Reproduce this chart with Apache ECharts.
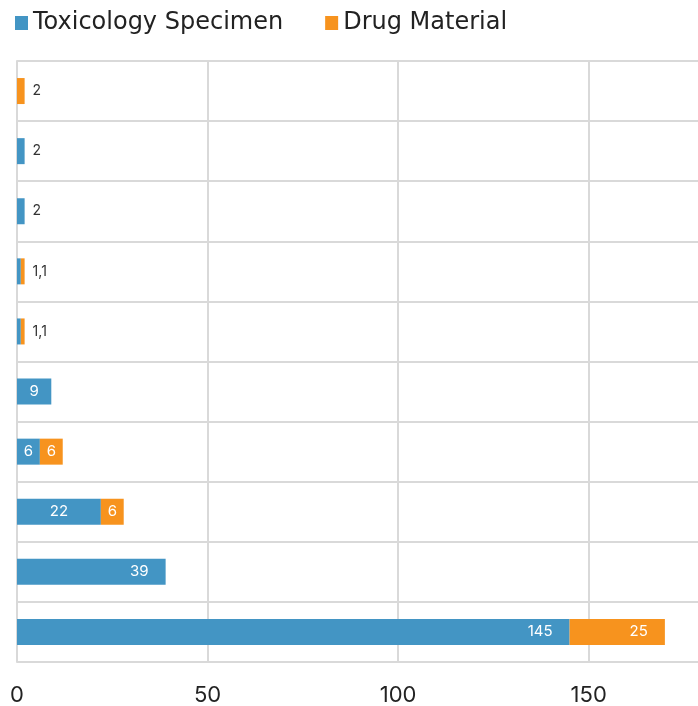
<!DOCTYPE html>
<html>
<head>
<meta charset="utf-8">
<script src="https://cdn.jsdelivr.net/npm/echarts@6/dist/echarts.min.js"></script>
<style>
  html, body { margin: 0; padding: 0; background: #fff; }
  #chart { width: 698px; height: 706px; }
</style>
</head>
<body>
<div id="chart"></div>
<script>
// data
var categories = ['1', '2', '3', '4', '5', '6', '7', '8', '9', '10'];
var toxValues = [0, 2, 2, 1, 1, 9, 6, 22, 39, 145];
var drugValues = [2, 0, 0, 1, 1, 0, 6, 6, 0, 25];
var xTicks = [0, 50, 100, 150];

var blue = '#4395c4';
var orange = '#f7931e';
var font = 'Inter, "Noto Sans", sans-serif';
var legendFont = '"DejaVu Sans", sans-serif';

// small rows get one dark label to the right of the bar
function smallRow(i) {
    return toxValues[i] + drugValues[i] <= 2;
}

function labelFor(value, i, isLast) {
    if (value === 0) return { show: false };
    if (smallRow(i)) {
        if (!isLast && drugValues[i] > 0) return { show: false };
        var parts = [];
        if (toxValues[i] > 0) parts.push(toxValues[i]);
        if (drugValues[i] > 0) parts.push(drugValues[i]);
        return {
            show: true, position: 'right', distance: 8,
            color: '#333', fontSize: 14, fontFamily: font,
            formatter: parts.join(',')
        };
    }
    // long segments: label near the end, short ones: centred
    if (value >= 25) {
        return { show: true, position: 'insideRight', distance: 17, color: '#fff', fontSize: 15, fontFamily: font };
    }
    return { show: true, position: 'inside', color: '#fff', fontSize: 15, fontFamily: font };
}

var toxData = toxValues.map(function (v, i) {
    return { value: v, label: labelFor(v, i, false) };
});
var drugData = drugValues.map(function (v, i) {
    return { value: v, label: labelFor(v, i, true) };
});

var myChart = echarts.init(document.getElementById('chart'));

var option = {
    animation: false,
    legend: {
        left: 10,
        top: 6,
        icon: 'rect',
        itemWidth: 13,
        itemHeight: 14,
        itemGap: 42,
        textStyle: { fontSize: 24, color: '#222', fontFamily: legendFont },
        data: ['Toxicology Specimen', 'Drug Material']
    },
    grid: {
        left: 17,
        width: 686,
        top: 61,
        bottom: 44,
        outerBoundsMode: 'none'
    },
    xAxis: {
        type: 'value',
        min: 0,
        max: 180,
        interval: 50,
        axisLine: { show: false },
        axisTick: { show: false },
        axisLabel: {
            showMaxLabel: false,
            fontSize: 22,
            color: '#222',
            fontFamily: font,
            margin: 22,
            formatter: function (v) { return xTicks.indexOf(v) >= 0 ? String(v) : ''; }
        },
        splitLine: { show: true, lineStyle: { color: '#d9d9d9', width: 2 } }
    },
    yAxis: {
        type: 'category',
        inverse: true,
        data: categories,
        axisLine: { show: true, lineStyle: { color: '#d9d9d9', width: 2 } },
        axisTick: { show: false },
        axisLabel: { show: false },
        splitLine: { show: true, interval: 0, lineStyle: { color: '#d9d9d9', width: 2 } }
    },
    series: [{
        name: 'Toxicology Specimen',
        type: 'bar',
        stack: 'total',
        barWidth: 26,
        itemStyle: { color: blue },
        data: toxData
    }, {
        name: 'Drug Material',
        type: 'bar',
        stack: 'total',
        barWidth: 26,
        itemStyle: { color: orange },
        data: drugData
    }]
};

myChart.setOption(option);
</script>
</body>
</html>
